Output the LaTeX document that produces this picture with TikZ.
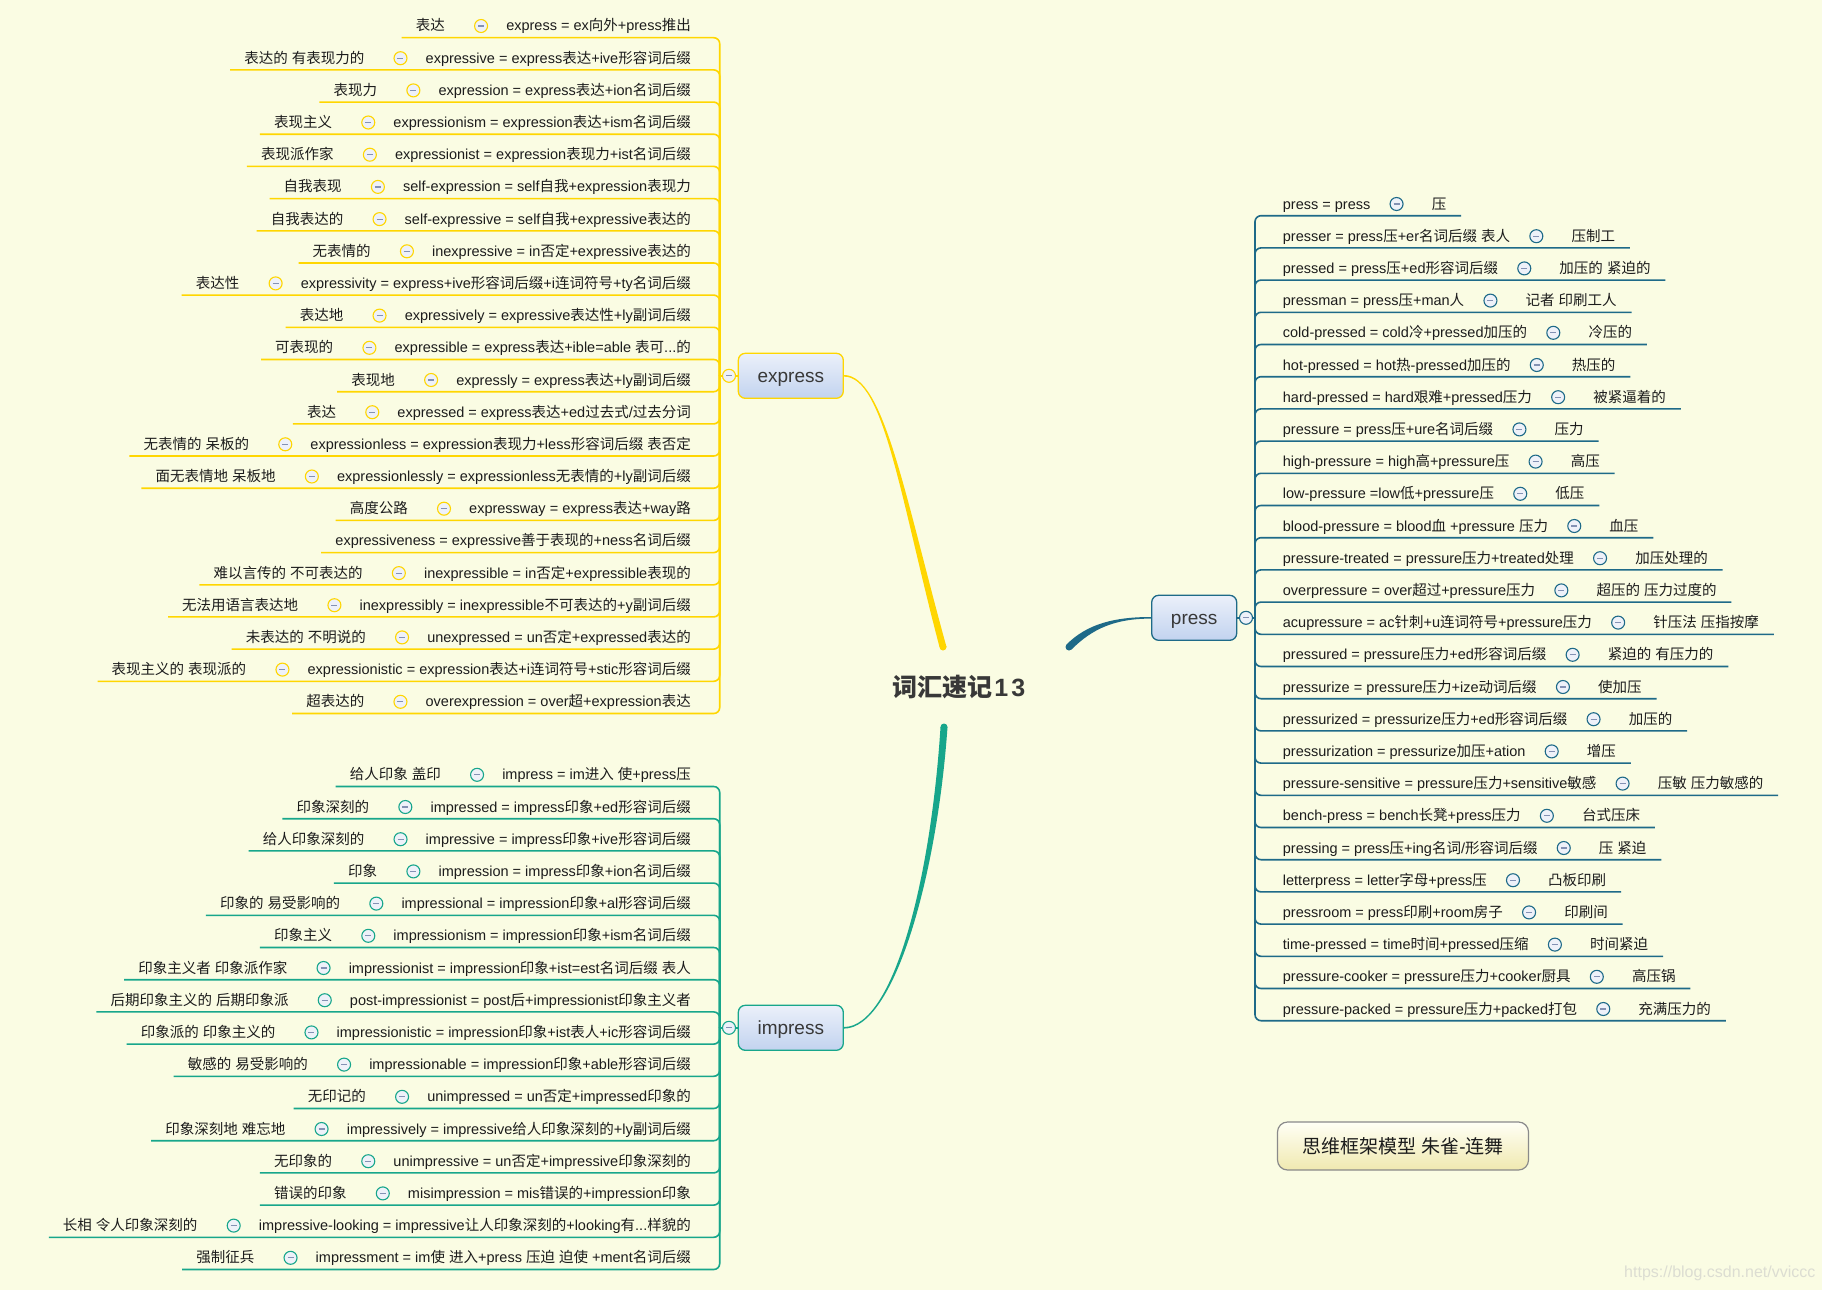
\documentclass[tikz,border=0pt]{standalone}
\usepackage{fontspec}
\setmainfont{Liberation Sans}
\newfontfamily\latinfont{Liberation Sans}
\newfontfamily\cjkfont{Noto Sans CJK SC}
\usetikzlibrary{calc}
\newcount\cjkcnt
\cjkcnt="4E00
\loop
  \XeTeXcharclass\cjkcnt=7
  \advance\cjkcnt by 1
\ifnum\cjkcnt<"A000 \repeat
\XeTeXinterchartoks 0 7 = {\cjkfont}
\XeTeXinterchartoks 4095 7 = {\cjkfont}
\XeTeXinterchartoks 7 0 = {\latinfont}
\XeTeXinterchartoks 7 4095 = {\latinfont}
\XeTeXinterchartokenstate=1

\definecolor{bgc}{HTML}{FAFCE3}
\definecolor{yel}{HTML}{FFD600}
\definecolor{tea}{HTML}{17A68B}
\definecolor{pbl}{HTML}{1E6A88}
\definecolor{txtc}{HTML}{1C1C1C}
\definecolor{nodetop}{HTML}{EBF0FA}
\definecolor{nodebot}{HTML}{C2D3EF}
\definecolor{cfill}{HTML}{EEF1F9}
\definecolor{minusc}{HTML}{8391B3}
\definecolor{titlec}{HTML}{383838}
\definecolor{wmc}{HTML}{DCDDD2}
\definecolor{foott}{HTML}{FFFFF5}
\definecolor{footb}{HTML}{F0E9B0}
\definecolor{footd}{HTML}{8A8A8A}

\tikzset{
  maintxt/.style={inner sep=0pt, text=txtc, font=\fontsize{14.5}{17}\selectfont},
  labtxt/.style={inner sep=0pt, text=txtc, font=\cjkfont\fontsize{14.5}{17}\selectfont},
  ul/.style={draw=#1, line width=1.6pt, rounded corners=6pt},
  collapse/.style={circle, minimum size=13pt, inner sep=0pt, draw=#1, line width=1.1pt, fill=cfill,
    path picture={\draw[minusc, line width=1.2pt] ([xshift=-3pt]path picture bounding box.center) -- ([xshift=3pt]path picture bounding box.center);}},
  topic/.style={draw=#1, line width=1.3pt, rounded corners=7pt, top color=nodetop, bottom color=nodebot,
    text=titlec, font=\fontsize{19}{22}\selectfont, minimum height=45pt, inner sep=0pt,
    text height=16pt, text depth=2pt},
}

% left branch row: id, y, label, text, colour, spine coordinate
\newcommand\Lrow[6]{%
  \node[maintxt, anchor=base east] (#1m) at (691,#2+5) {#4};
  \node[collapse=#5] (#1k) at ($(#1m.base west)+(-25,-5)$) {};
  \node[labtxt, anchor=base east] (#1l) at ($(#1k.center)+(-36,5)$) {#3};
  \draw[ul=#5] ($(#1l.base west)+(-14,6.7)$) -| (#6);
}
% right branch row: id, y, text, label
\newcommand\Rrow[4]{%
  \node[maintxt, anchor=base west] (#1m) at (1282.7,#2+5) {#3};
  \node[collapse=pbl] (#1k) at ($(#1m.base east)+(26,-5)$) {};
  \node[labtxt, anchor=base west] (#1l) at ($(#1k.center)+(35,5)$) {#4};
  \draw[ul=pbl] ($(#1l.base east)+(14.7,6.7)$) -| (ps);
}

\begin{document}
\begin{tikzpicture}[x=1pt,y=-1pt]
\fill[bgc] (0,0) rectangle (1822,1290);
\useasboundingbox (0,0) rectangle (1822,1290);

\coordinate (es) at (719.7,375.8);
\coordinate (is) at (719.7,1027.8);
\coordinate (ps) at (1255,617.8);
\coordinate (ry) at (943,647);
\coordinate (rt) at (944,727);
\coordinate (rp) at (1069,647);

% main topics
\node[font=\cjkfont\bfseries\fontsize{25}{29}\selectfont, text=titlec] (root) at (958.8,687) {词汇速记\kern2pt{\latinfont\bfseries 1\kern3pt 3}};
\node[topic=yel, minimum width=105pt] (ex) at (790.8,375.8) {express};
\node[topic=tea, minimum width=105pt] (im) at (790.8,1027.8) {impress};
\node[topic=pbl, minimum width=85pt] (pr) at (1194.2,617.8) {press};

% tapered connectors from the root
\fill[yel] ($(ex.east)+(0,-0.8)$) .. controls +(40,0) and ($(ry)+(-38,-150)$) .. ($(ry)+(3.5,0)$)
  -- ($(ry)+(-3.5,0)$) .. controls ($(ry)+(-43,-150)$) and ($(ex.east)+(40,0.8)$) .. ($(ex.east)+(0,0.8)$) -- cycle;
\fill[yel] (ry) circle (3.5);
\fill[tea] ($(im.east)+(0,0.8)$) .. controls +(50,0) and ($(rt)+(-7,150)$) .. ($(rt)+(3.5,0)$)
  -- ($(rt)+(-3.5,0)$) .. controls ($(rt)+(-13,150)$) and ($(im.east)+(50,-0.8)$) .. ($(im.east)+(0,-0.8)$) -- cycle;
\fill[tea] (rt) circle (3.5);
\fill[pbl] ($(rp)+(-2.5,-2.5)$) .. controls +(21,-21) and ($(pr.west)+(-36,-0.8)$) .. ($(pr.west)+(0,-0.8)$)
  -- ($(pr.west)+(0,0.8)$) .. controls ($(pr.west)+(-36,0.8)$) and ($(rp)+(23.5,-18.5)$) .. ($(rp)+(2.5,2.5)$) -- cycle;
\fill[pbl] (rp) circle (3.5);

% collapse buttons of main topics
\node[collapse=yel] (exk) at (729,375.8) {};
\draw[ul=yel] (exk.east) -- (ex.west);
\draw[ul=yel] (exk.west) -- (es);
\node[collapse=tea] (imk) at (729,1027.8) {};
\draw[ul=tea] (imk.east) -- (im.west);
\draw[ul=tea] (imk.west) -- (is);
\node[collapse=pbl] (prk) at (1246,617.8) {};
\draw[ul=pbl] (prk.west) -- (pr.east);
\draw[ul=pbl] (prk.east) -- (ps);

% express branch
\Lrow{e1}{26.0}{表达}{express = ex向外+press推出}{yel}{es}
\Lrow{e2}{58.2}{表达的 有表现力的}{expressive = express表达+ive形容词后缀}{yel}{es}
\Lrow{e3}{90.4}{表现力}{expression = express表达+ion名词后缀}{yel}{es}
\Lrow{e4}{122.5}{表现主义}{expressionism = expression表达+ism名词后缀}{yel}{es}
\Lrow{e5}{154.7}{表现派作家}{expressionist = expression表现力+ist名词后缀}{yel}{es}
\Lrow{e6}{186.9}{自我表现}{self-expression = self自我+expression表现力}{yel}{es}
\Lrow{e7}{219.1}{自我表达的}{self-expressive = self自我+expressive表达的}{yel}{es}
\Lrow{e8}{251.3}{无表情的}{inexpressive = in否定+expressive表达的}{yel}{es}
\Lrow{e9}{283.4}{表达性}{expressivity = express+ive形容词后缀+i连词符号+ty名词后缀}{yel}{es}
\Lrow{e10}{315.6}{表达地}{expressively = expressive表达性+ly副词后缀}{yel}{es}
\Lrow{e11}{347.8}{可表现的}{expressible = express表达+ible=able 表可...的}{yel}{es}
\Lrow{e12}{380.0}{表现地}{expressly = express表达+ly副词后缀}{yel}{es}
\Lrow{e13}{412.2}{表达}{expressed = express表达+ed过去式/过去分词}{yel}{es}
\Lrow{e14}{444.3}{无表情的 呆板的}{expressionless = expression表现力+less形容词后缀 表否定}{yel}{es}
\Lrow{e15}{476.5}{面无表情地 呆板地}{expressionlessly = expressionless无表情的+ly副词后缀}{yel}{es}
\Lrow{e16}{508.7}{高度公路}{expressway = express表达+way路}{yel}{es}
\node[maintxt, anchor=base east] (e17m) at (691,540.9+5) {expressiveness = expressive善于表现的+ness名词后缀};
\draw[ul=yel] ($(e17m.base west)+(-14,6.7)$) -| (es);
\Lrow{e18}{573.1}{难以言传的 不可表达的}{inexpressible = in否定+expressible表现的}{yel}{es}
\Lrow{e19}{605.2}{无法用语言表达地}{inexpressibly = inexpressible不可表达的+y副词后缀}{yel}{es}
\Lrow{e20}{637.4}{未表达的 不明说的}{unexpressed = un否定+expressed表达的}{yel}{es}
\Lrow{e21}{669.6}{表现主义的 表现派的}{expressionistic = expression表达+i连词符号+stic形容词后缀}{yel}{es}
\Lrow{e22}{701.8}{超表达的}{overexpression = over超+expression表达}{yel}{es}

% impress branch
\Lrow{i1}{774.8}{给人印象 盖印}{impress = im进入 使+press压}{tea}{is}
\Lrow{i2}{807.0}{印象深刻的}{impressed = impress印象+ed形容词后缀}{tea}{is}
\Lrow{i3}{839.2}{给人印象深刻的}{impressive = impress印象+ive形容词后缀}{tea}{is}
\Lrow{i4}{871.4}{印象}{impression = impress印象+ion名词后缀}{tea}{is}
\Lrow{i5}{903.6}{印象的 易受影响的}{impressional = impression印象+al形容词后缀}{tea}{is}
\Lrow{i6}{935.8}{印象主义}{impressionism = impression印象+ism名词后缀}{tea}{is}
\Lrow{i7}{968.0}{印象主义者 印象派作家}{impressionist = impression印象+ist=est名词后缀 表人}{tea}{is}
\Lrow{i8}{1000.2}{后期印象主义的 后期印象派}{post-impressionist = post后+impressionist印象主义者}{tea}{is}
\Lrow{i9}{1032.4}{印象派的 印象主义的}{impressionistic = impression印象+ist表人+ic形容词后缀}{tea}{is}
\Lrow{i10}{1064.6}{敏感的 易受影响的}{impressionable = impression印象+able形容词后缀}{tea}{is}
\Lrow{i11}{1096.8}{无印记的}{unimpressed = un否定+impressed印象的}{tea}{is}
\Lrow{i12}{1129.0}{印象深刻地 难忘地}{impressively = impressive给人印象深刻的+ly副词后缀}{tea}{is}
\Lrow{i13}{1161.2}{无印象的}{unimpressive = un否定+impressive印象深刻的}{tea}{is}
\Lrow{i14}{1193.4}{错误的印象}{misimpression = mis错误的+impression印象}{tea}{is}
\Lrow{i15}{1225.6}{长相 令人印象深刻的}{impressive-looking = impressive让人印象深刻的+looking有...样貌的}{tea}{is}
\Lrow{i16}{1257.8}{强制征兵}{impressment = im使 进入+press 压迫 迫使 +ment名词后缀}{tea}{is}

% press branch
\Rrow{p1}{204.0}{press = press}{压}
\Rrow{p2}{236.2}{presser = press压+er名词后缀 表人}{压制工}
\Rrow{p3}{268.4}{pressed = press压+ed形容词后缀}{加压的 紧迫的}
\Rrow{p4}{300.6}{pressman = press压+man人}{记者 印刷工人}
\Rrow{p5}{332.8}{cold-pressed = cold冷+pressed加压的}{冷压的}
\Rrow{p6}{365.0}{hot-pressed = hot热-pressed加压的}{热压的}
\Rrow{p7}{397.2}{hard-pressed = hard艰难+pressed压力}{被紧逼着的}
\Rrow{p8}{429.4}{pressure = press压+ure名词后缀}{压力}
\Rrow{p9}{461.6}{high-pressure = high高+pressure压}{高压}
\Rrow{p10}{493.8}{low-pressure =low低+pressure压}{低压}
\Rrow{p11}{526.0}{blood-pressure = blood血 +pressure 压力}{血压}
\Rrow{p12}{558.2}{pressure-treated = pressure压力+treated处理}{加压处理的}
\Rrow{p13}{590.4}{overpressure = over超过+pressure压力}{超压的 压力过度的}
\Rrow{p14}{622.6}{acupressure = ac针刺+u连词符号+pressure压力}{针压法 压指按摩}
\Rrow{p15}{654.8}{pressured = pressure压力+ed形容词后缀}{紧迫的 有压力的}
\Rrow{p16}{687.0}{pressurize = pressure压力+ize动词后缀}{使加压}
\Rrow{p17}{719.2}{pressurized = pressurize压力+ed形容词后缀}{加压的}
\Rrow{p18}{751.4}{pressurization = pressurize加压+ation}{增压}
\Rrow{p19}{783.6}{pressure-sensitive = pressure压力+sensitive敏感}{压敏 压力敏感的}
\Rrow{p20}{815.8}{bench-press = bench长凳+press压力}{台式压床}
\Rrow{p21}{848.0}{pressing = press压+ing名词/形容词后缀}{压 紧迫}
\Rrow{p22}{880.2}{letterpress = letter字母+press压}{凸板印刷}
\Rrow{p23}{912.4}{pressroom = press印刷+room房子}{印刷间}
\Rrow{p24}{944.6}{time-pressed = time时间+pressed压缩}{时间紧迫}
\Rrow{p25}{976.8}{pressure-cooker = pressure压力+cooker厨具}{高压锅}
\Rrow{p26}{1009.0}{pressure-packed = pressure压力+packed打包}{充满压力的}

% footer and watermark
\node[draw=footd, line width=1.2pt, rounded corners=10pt, top color=foott, bottom color=footb,
  minimum width=251pt, minimum height=48pt, inner sep=0pt,
  font=\cjkfont\fontsize{19}{22}\selectfont, text=txtc] (foot) at (1403,1146) {思维框架模型 朱雀-连舞};
\node[font=\fontsize{16}{18}\selectfont, text=wmc, anchor=base west, inner sep=0pt] (wm) at (1624,1277) {https://blog.csdn.net/vviccc};
\end{tikzpicture}
\end{document}
